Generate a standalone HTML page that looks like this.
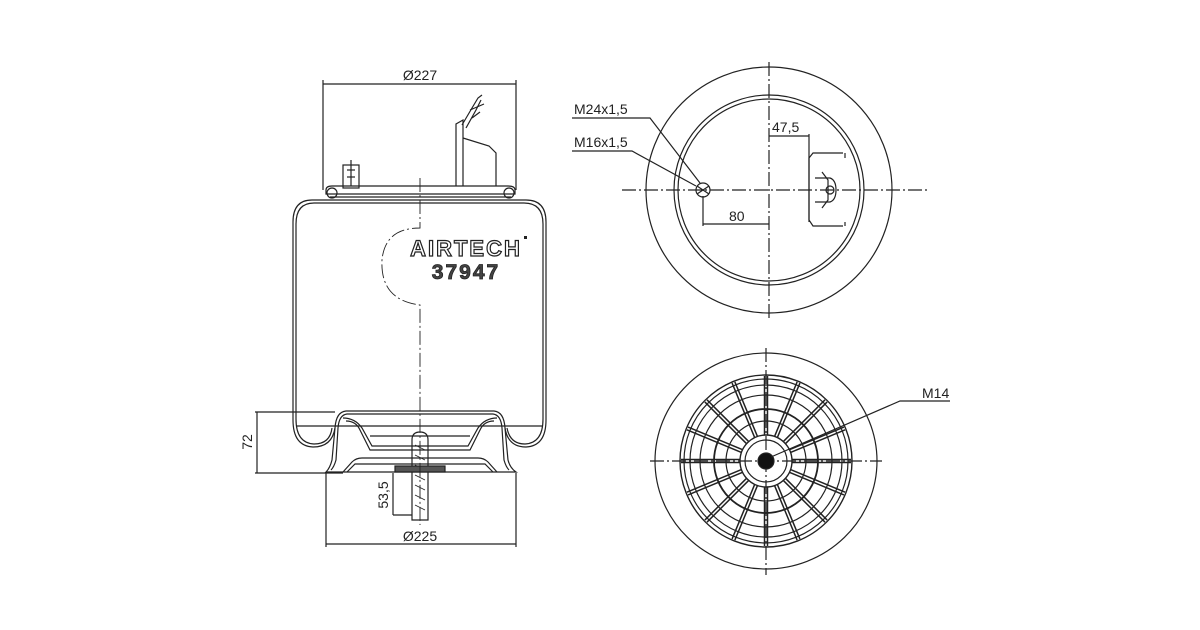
<!DOCTYPE html>
<html><head><meta charset="utf-8"><style>
html,body{margin:0;padding:0;background:#fff;}
svg{display:block}
text{font-family:"Liberation Sans",sans-serif;fill:#222}
</style></head><body>
<svg width="1200" height="630" viewBox="0 0 1200 630" xmlns="http://www.w3.org/2000/svg">
<g fill="none" stroke="#222" stroke-width="1.2">
<!-- LEFT VIEW -->
<line x1="323" y1="84" x2="516" y2="84"/>
<line x1="323" y1="80" x2="323" y2="190"/>
<line x1="516" y1="80" x2="516" y2="190"/>
<path d="M326 190 Q326 186 332 186 L508 186 Q515 186 515 190 L515 194 L326 194 Z"/>
<line x1="330" y1="197" x2="511" y2="197"/>
<circle cx="332" cy="193" r="5"/><circle cx="509" cy="193" r="5"/>
<rect x="343" y="165" width="16" height="23"/>
<line x1="347" y1="170" x2="355" y2="170"/><line x1="347" y1="177" x2="355" y2="177"/>
<line x1="351" y1="160" x2="351" y2="186"/>
<path d="M456 186 L456 124 L463 120 L463 186"/>
<path d="M463 138 L489 146 L496 153 L496 186"/>
<path d="M462 125 L472 108 L478 98 L482 95 M466 128 L476 110 L481 100"/>
<path d="M472 118 L480 112 M470 110 L484 104"/>
<path d="M312 200 L526 200 Q546 200 546 222 L546 420 Q546 446 526 447 Q508 447 505 428"/>
<path d="M314 203 L524 203 Q543 203 543 224 L543 419 Q543 443 525 444 Q510 444 507 428"/>
<path d="M312 200 Q293 200 293 222 L293 420 Q293 446 313 447 Q332 447 335 428"/>
<path d="M314 203 Q296 203 296 224 L296 419 Q296 443 314 444 Q330 444 332 428"/>
<line x1="296" y1="426" x2="543" y2="426"/>
<path d="M335 428 Q336 412 346 411 L494 411 Q504 412 505 428"/>
<path d="M338 428 Q339 415 347 414 L493 414 Q501 415 502 428"/>
<path d="M335 428 L332 460 Q330 468 326 472 L516 472 Q510 468 508 460 L505 428"/>
<path d="M338 428 L336 460 Q334 467 331 470"/>
<path d="M502 428 L504 460 Q506 467 509 470"/>
<path d="M343 418 Q355 418 362 428 L372 446 L468 446 L478 428 Q485 418 497 418"/>
<path d="M346 421 Q356 421 360 430 L370 450 L470 450 L480 430 Q484 421 494 421"/>
<line x1="370" y1="436" x2="470" y2="436"/>
<path d="M343 472 L352 462 Q356 458 362 458 L478 458 Q484 458 488 462 L497 472"/>
<path d="M347 472 L355 464 L485 464 L493 472"/>
<path d="M412 520 L412 440 Q412 432 420 432 Q428 432 428 440 L428 520 Z"/>
<path d="M415 445 L425 450 M415 455 L425 460 M415 465 L425 470 M415 475 L425 480 M415 485 L425 490 M415 495 L425 500 M415 505 L425 510" stroke-width="0.8"/>
<rect x="395" y="466" width="50" height="6" fill="#555" stroke="#222"/>
<line x1="255" y1="412" x2="335" y2="412"/>
<line x1="255" y1="473" x2="343" y2="473"/>
<line x1="257" y1="412" x2="257" y2="473"/>
<line x1="393" y1="473" x2="393" y2="515"/>
<line x1="393" y1="515" x2="412" y2="515"/>
<line x1="326" y1="473" x2="326" y2="547"/>
<line x1="516" y1="473" x2="516" y2="547"/>
<line x1="326" y1="544" x2="516" y2="544"/>
<path d="M420 178 L420 228 Q385 228 382 260 Q380 300 420 305 L420 525" stroke-dasharray="14 3 2 3" stroke-width="0.9"/>

<!-- TOP RIGHT VIEW -->
<circle cx="769" cy="190" r="123"/>
<circle cx="769" cy="190" r="95"/>
<circle cx="769" cy="190" r="91"/>
<line x1="622" y1="190" x2="928" y2="190" stroke-dasharray="14 3 2 3"/>
<line x1="769" y1="62" x2="769" y2="318" stroke-dasharray="14 3 2 3"/>
<circle cx="703" cy="190" r="7"/>
<line x1="697" y1="186" x2="709" y2="194"/><line x1="697" y1="194" x2="709" y2="186"/>
<path d="M572 118 L650 118 L700 183"/>
<path d="M572 151 L632 151 L696 186"/>
<line x1="703" y1="196" x2="703" y2="226"/>
<line x1="703" y1="224" x2="769" y2="224"/>
<line x1="769" y1="136" x2="809" y2="136"/>
<line x1="809" y1="134" x2="809" y2="222"/>
<path d="M843 153 L813 153 L809 158 L809 220 L813 226 L843 226"/>
<path d="M845 153 L845 158 M845 222 L845 226"/>
<path d="M815 178 L830 178 Q836 180 836 190 Q836 200 830 202 L815 202"/>
<path d="M822 172 L828 180 L828 200 L822 208"/>
<circle cx="830" cy="190" r="4"/>

<!-- BOTTOM RIGHT VIEW -->
<ellipse cx="766" cy="461" rx="111" ry="108"/>
<circle cx="766" cy="461" r="86" stroke-width="1.4"/>
<circle cx="766" cy="461" r="82"/>
<circle cx="766" cy="461" r="76"/>
<circle cx="766" cy="461" r="66"/>
<circle cx="766" cy="461" r="52" stroke-width="1.8"/>
<circle cx="766" cy="461" r="40"/>
<circle cx="766" cy="461" r="26" stroke-width="1.4"/>
<circle cx="766" cy="461" r="21"/>
<line x1="650" y1="461" x2="882" y2="461" stroke-dasharray="14 3 2 3"/>
<line x1="766" y1="348" x2="766" y2="575" stroke-dasharray="14 3 2 3"/>
<g stroke-width="1.5" transform="translate(766 461)">
<g id="sp"><line x1="26" y1="-1.5" x2="85" y2="-1.5"/><line x1="26" y1="1.5" x2="85" y2="1.5"/></g>
<use href="#sp" transform="rotate(22.5)"/><use href="#sp" transform="rotate(45)"/><use href="#sp" transform="rotate(67.5)"/>
<use href="#sp" transform="rotate(90)"/><use href="#sp" transform="rotate(112.5)"/><use href="#sp" transform="rotate(135)"/>
<use href="#sp" transform="rotate(157.5)"/><use href="#sp" transform="rotate(180)"/><use href="#sp" transform="rotate(202.5)"/>
<use href="#sp" transform="rotate(225)"/><use href="#sp" transform="rotate(247.5)"/><use href="#sp" transform="rotate(270)"/>
<use href="#sp" transform="rotate(292.5)"/><use href="#sp" transform="rotate(315)"/><use href="#sp" transform="rotate(337.5)"/>
</g>
<circle cx="766" cy="461" r="8" fill="#111"/>
<path d="M771 457 L900 401 L950 401"/>
</g>
<text x="420" y="80" font-size="14" text-anchor="middle">Ø227</text>
<text x="420" y="541" font-size="14" text-anchor="middle">Ø225</text>
<text transform="translate(252 442) rotate(-90)" font-size="14" text-anchor="middle">72</text>
<text transform="translate(388 495) rotate(-90)" font-size="14" text-anchor="middle">53,5</text>
<text x="466" y="256" font-size="22" font-weight="bold" text-anchor="middle" letter-spacing="2" style="fill:#fff;stroke:#222;stroke-width:1.2">AIRTECH</text>
<rect x="524" y="236" width="3" height="3" fill="#222"/>
<text x="466" y="279" font-size="21" font-weight="bold" text-anchor="middle" letter-spacing="2" style="fill:#444;stroke:#222;stroke-width:0.8">37947</text>
<text x="574" y="114" font-size="14">M24x1,5</text>
<text x="574" y="147" font-size="14">M16x1,5</text>
<text x="772" y="132" font-size="14">47,5</text>
<text x="729" y="221" font-size="14">80</text>
<text x="922" y="398" font-size="14">M14</text>
</svg>
</body></html>
